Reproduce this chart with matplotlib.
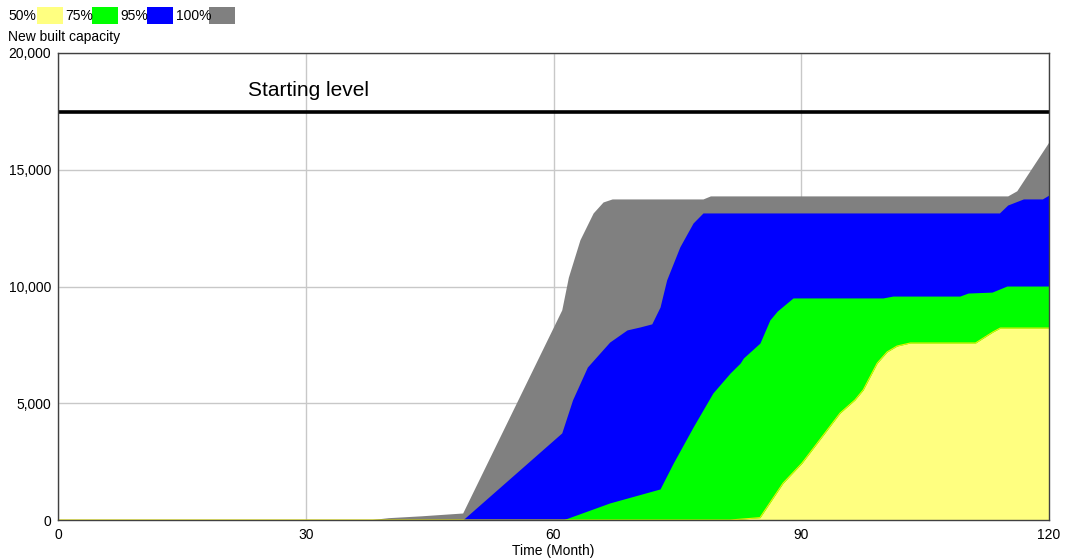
import matplotlib
matplotlib.use("Agg")
import matplotlib.pyplot as plt
from matplotlib.patches import Rectangle
from matplotlib.ticker import FuncFormatter

plt.rcParams['font.family'] = ['Liberation Sans', 'DejaVu Sans']

# upper edge of each confidence band (months, value)
gray_t = [0, 37.5, 40, 44, 49, 61, 61.8, 63.2, 64.8, 66, 67.1, 78.1, 79, 115, 116.1, 120]
gray_v = [0, 0, 100, 180, 300, 9000, 10400, 12000, 13150, 13620, 13750, 13750, 13880, 13880, 14100, 16200]

blue_t = [0, 49, 61, 62.3, 64.1, 66.8, 68.9, 70.5, 71.9, 72.9, 73.7, 75.3, 76.9, 78.1, 114, 115, 116.9, 119.2, 120]
blue_v = [0, 0, 3730, 5140, 6550, 7620, 8140, 8270, 8400, 9120, 10280, 11700, 12720, 13150, 13150, 13490, 13750, 13750, 13920]

green_t = [0, 61.1, 66.8, 72.9, 74.5, 76.9, 79.3, 81.4, 82.6, 83, 85, 86.2, 87.1, 89, 99.9, 101.1, 109.2, 110.2, 113.1, 114.9, 120]
green_v = [0, 0, 730, 1330, 2440, 3980, 5440, 6300, 6720, 6940, 7580, 8570, 8950, 9510, 9510, 9590, 9590, 9720, 9760, 10020, 10020]

yellow_t = [0, 81.4, 85, 87.8, 90.1, 94.7, 96.5, 97.5, 99.2, 100.4, 101.6, 103.2, 111.1, 113.2, 114.1, 120]
yellow_v = [0, 0, 100, 1580, 2440, 4580, 5140, 5570, 6720, 7200, 7450, 7580, 7580, 8050, 8220, 8220]

starting_level = 17470

labels = ['50%', '75%', '95%', '100%']
colors = ['#ffff80', '#00ff00', '#0000ff', '#808080']

fig = plt.figure(figsize=(10.66, 5.58), dpi=100)
ax = fig.add_axes([58 / 1066, 1 - 520 / 558, (1049 - 58) / 1066, (520 - 53) / 558])

ax.fill_between(gray_t, 0, gray_v, color=colors[3], linewidth=0, zorder=2)
ax.fill_between(blue_t, 0, blue_v, color=colors[2], linewidth=0, zorder=3)
ax.fill_between(green_t, 0, green_v, color=colors[1], linewidth=0, zorder=4)
ax.fill_between(yellow_t, 0, yellow_v, color=colors[0], linewidth=0, zorder=5)
ax.plot(yellow_t, yellow_v, color='#f0f000', linewidth=0.8, zorder=6)

ax.axhline(starting_level, color='black', linewidth=2.6, zorder=7)
ax.text(23, starting_level + 700, 'Starting level', fontsize=15, zorder=8)

ax.set_xlim(0, 120)
ax.set_ylim(0, 20000)
ax.set_xticks([0, 30, 60, 90, 120])
ax.set_yticks([0, 5000, 10000, 15000, 20000])
ax.yaxis.set_major_formatter(FuncFormatter(lambda v, p: f'{int(v):,}'))
ax.grid(True, color='#c8c8c8', linewidth=1, zorder=1)
ax.set_axisbelow(True)
ax.tick_params(length=0, labelsize=10)
ax.tick_params(axis='x', pad=6)
ax.tick_params(axis='y', pad=5)
for s in ax.spines.values():
    s.set_color('#404040')
    s.set_linewidth(1)
    s.set_zorder(10)
ax.set_xlabel('Time (Month)', fontsize=10, labelpad=1)

fig.text(8 / 1066, 1 - 37 / 558, 'New built capacity', fontsize=10, va='center')

# legend row at the top
text_x = [8, 65, 120, 176]
box_x = [37, 92, 147, 209]
for lab, c, tx, bx in zip(labels, colors, text_x, box_x):
    fig.text(tx / 1066, 1 - 16 / 558, lab, fontsize=10, va='center')
    fig.patches.append(Rectangle((bx / 1066, 1 - 24 / 558), 26 / 1066, 17 / 558,
                                 transform=fig.transFigure, facecolor=c, edgecolor='none'))

fig.savefig('out.png', dpi=100)
